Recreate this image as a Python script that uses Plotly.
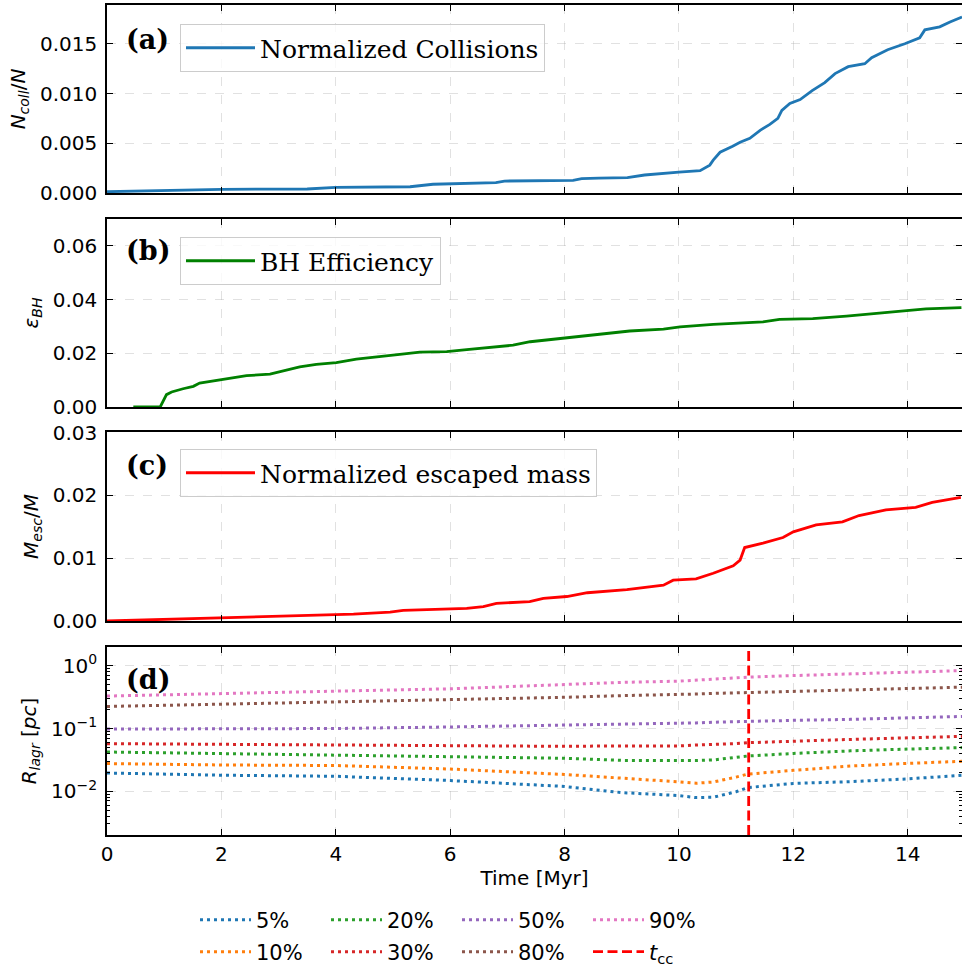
import plotly.graph_objects as go

# ---------------- data ----------------
time_coll = [0, 2.0, 3.5, 4.0, 5.3, 5.7, 6.8, 6.95, 8.15, 8.3, 8.6, 9.1, 9.4, 9.85, 10.0, 10.37,
             10.54, 10.6, 10.72, 10.94, 11.07, 11.24, 11.42, 11.59, 11.73, 11.8, 11.94, 12.12,
             12.33, 12.55, 12.73, 12.96, 13.25, 13.37, 13.65, 13.95, 14.21, 14.3, 14.56, 14.74, 14.95]
n_coll = [0.00013, 0.00037, 0.0004, 0.00057, 0.00063, 0.00088, 0.00104, 0.0012, 0.00127, 0.00144,
          0.0015, 0.00154, 0.00181, 0.00205, 0.0021, 0.00224, 0.0028, 0.0033, 0.0041, 0.0047,
          0.0051, 0.0055, 0.0063, 0.0069, 0.0075, 0.0083, 0.0090, 0.0094, 0.0103, 0.0111, 0.0120,
          0.0127, 0.0130, 0.0136, 0.0144, 0.0150, 0.0156, 0.0164, 0.0167, 0.0172, 0.0177]

time_bh = [0.46, 0.93, 1.04, 1.13, 1.33, 1.51, 1.62, 1.91, 2.03, 2.2, 2.44, 2.85, 3.08, 3.37,
           3.66, 4.01, 4.36, 4.65, 5.12, 5.47, 5.94, 6.29, 6.7, 7.1, 7.4, 8.04, 8.56, 9.14,
           9.73, 10.02, 10.6, 11.47, 11.76, 12.34, 12.93, 13.28, 13.62, 14.03, 14.32, 14.94]
eps_bh = [0, 0, 0.0046, 0.0056, 0.0068, 0.0077, 0.0089, 0.0099, 0.0103, 0.0108, 0.0117, 0.0122,
          0.0134, 0.0149, 0.0159, 0.0165, 0.0178, 0.0184, 0.0196, 0.0204, 0.0206, 0.0214, 0.0221,
          0.0230, 0.0243, 0.0257, 0.0271, 0.0283, 0.029, 0.0298, 0.0308, 0.0317, 0.0326, 0.0329,
          0.0338, 0.0345, 0.0354, 0.036, 0.0365, 0.037]

time_esc = [0, 2.03, 3.14, 3.96, 4.31, 4.95, 5.18, 6.29, 6.58, 6.81, 7.39, 7.63, 8.04, 8.4,
            9.09, 9.73, 9.9, 10.3, 10.6, 10.95, 11.07, 11.15, 11.47, 11.82, 12.0, 12.4, 12.86,
            13.15, 13.62, 14.14, 14.43, 14.93]
m_esc = [0, 0.0005, 0.0007, 0.001, 0.0011, 0.0014, 0.0017, 0.002, 0.0023, 0.0028, 0.0031,
         0.0036, 0.0039, 0.0045, 0.0050, 0.0057, 0.0065, 0.0067, 0.0076, 0.0088, 0.0097, 0.0117,
         0.0124, 0.0133, 0.0142, 0.0153, 0.0158, 0.0168, 0.0177, 0.0181, 0.0189, 0.0197]

t_lagr = [0, 2, 4, 6, 8, 9, 10, 10.3, 10.6, 11.0, 11.2, 12, 13, 14, 14.95]
r05 = [0.0195, 0.018, 0.0173, 0.0148, 0.0119, 0.0095, 0.0085, 0.0079, 0.0080, 0.0098, 0.0114, 0.0133, 0.0142, 0.0157, 0.018]
r10 = [0.0276, 0.0262, 0.0257, 0.0226, 0.0185, 0.0163, 0.0141, 0.0134, 0.0140, 0.0168, 0.0187, 0.0215, 0.0252, 0.0278, 0.030]
r20 = [0.0422, 0.0398, 0.0375, 0.035, 0.0335, 0.031, 0.0305, 0.0308, 0.0315, 0.0345, 0.0364, 0.040, 0.044, 0.047, 0.0496]
r30 = [0.0574, 0.056, 0.0551, 0.0534, 0.052, 0.0528, 0.0528, 0.0545, 0.0555, 0.0574, 0.0594, 0.063, 0.067, 0.071, 0.075]
r50 = [0.098, 0.099, 0.100, 0.106, 0.113, 0.117, 0.120, 0.123, 0.126, 0.129, 0.131, 0.135, 0.140, 0.148, 0.156]
r80 = [0.225, 0.245, 0.263, 0.287, 0.315, 0.335, 0.346, 0.355, 0.363, 0.372, 0.376, 0.39, 0.41, 0.435, 0.457]
r90 = [0.33, 0.365, 0.395, 0.43, 0.50, 0.545, 0.57, 0.59, 0.615, 0.645, 0.66, 0.70, 0.745, 0.785, 0.84]
lagr_labels = ["5%", "10%", "20%", "30%", "50%", "80%", "90%"]
t_cc = 11.22

# ---------------- styling ----------------
SANS = "DejaVu Sans"
SERIF = "DejaVu Serif"
TAB = ["#1f77b4", "#ff7f0e", "#2ca02c", "#d62728", "#9467bd", "#8c564b", "#e377c2"]
XMAX = 14.95
LOG_RANGE = [0.002, 2.0]

fig = go.Figure()

fig.add_trace(go.Scatter(x=time_coll, y=n_coll, mode="lines", name="Normalized Collisions",
                         line=dict(color="#1f77b4", width=2.8), xaxis="x", yaxis="y", legend="legend"))
fig.add_trace(go.Scatter(x=time_bh, y=eps_bh, mode="lines", name="BH Efficiency",
                         line=dict(color="green", width=2.8), xaxis="x2", yaxis="y2", legend="legend2"))
fig.add_trace(go.Scatter(x=time_esc, y=m_esc, mode="lines", name="Normalized escaped mass",
                         line=dict(color="red", width=2.8), xaxis="x3", yaxis="y3", legend="legend3"))

series = [r05, r10, r20, r30, r50, r80, r90]
row_of = {0: "legend4", 2: "legend4", 4: "legend4", 6: "legend4",
          1: "legend5", 3: "legend5", 5: "legend5"}
rank = {0: 1, 2: 2, 4: 3, 6: 4, 1: 1, 3: 2, 5: 3}
for i, (vals, lab) in enumerate(zip(series, lagr_labels)):
    fig.add_trace(go.Scatter(x=t_lagr, y=vals, mode="lines", name=lab,
                             line=dict(color=TAB[i], width=3, dash="3px,4px"),
                             xaxis="x4", yaxis="y4", legend=row_of[i], legendrank=rank[i]))
fig.add_trace(go.Scatter(x=[t_cc, t_cc], y=LOG_RANGE, mode="lines", name="<i>t</i><sub>cc</sub>",
                         line=dict(color="red", width=2.8, dash="10px,4.5px"),
                         xaxis="x4", yaxis="y4", legend="legend5", legendrank=4))

ml, mr, mt, mb = 107, 0, 5, 135
W, H = 962, 970
PH = H - mt - mb
PW = W - ml - mr


def ydom(top_px, bot_px):
    return [(H - mb - bot_px) / PH, (H - mb - top_px) / PH]


def ypix(p):
    return (H - mb - p) / PH


common_x = dict(range=[0, XMAX], dtick=2, tick0=0, ticks="inside", ticklen=6, tickwidth=1.3,
                tickcolor="black", showline=True, linecolor="black", linewidth=1.6,
                mirror="allticks", showgrid=True, gridcolor="rgba(170,170,170,0.35)",
                griddash="dash", gridwidth=1, zeroline=False, automargin=False,
                tickfont=dict(family=SANS, size=20, color="black"))
common_y = dict(ticks="inside", ticklen=6, tickwidth=1.3, tickcolor="black", showline=True,
                linecolor="black", linewidth=1.6, mirror="allticks", showgrid=True,
                gridcolor="rgba(170,170,170,0.35)", griddash="dash", gridwidth=1, zeroline=False,
                automargin=False,
                tickfont=dict(family=SANS, size=20, color="black"), ticklabelstandoff=4,
                title_font=dict(family=SANS, size=20, color="black"), title_standoff=9)

minor_vals = [k * 10 ** e for e in (-3, -2, -1, 0) for k in range(2, 10)]

fig.update_layout(
    width=W, height=H, margin=dict(l=ml, r=mr, t=mt, b=mb, autoexpand=False),
    paper_bgcolor="white", plot_bgcolor="white", showlegend=True,
    xaxis=dict(common_x, anchor="y", showticklabels=False, matches="x4"),
    xaxis2=dict(common_x, anchor="y2", showticklabels=False, matches="x4"),
    xaxis3=dict(common_x, anchor="y3", showticklabels=False, matches="x4"),
    xaxis4=dict(common_x, anchor="y4", showticklabels=True,
                title=dict(text="Time [Myr]", font=dict(family=SANS, size=20, color="black"), standoff=6)),
    yaxis=dict(common_y, domain=ydom(5, 193), range=[0, 0.0189], tickvals=[0, 0.005, 0.010, 0.015],
               tickformat=".3f", title_text="<i>N<sub>coll</sub></i>/<i>N</i>"),
    yaxis2=dict(common_y, domain=ydom(219, 407), range=[0, 0.07], tickvals=[0, 0.02, 0.04, 0.06],
                tickformat=".2f", title_text="<i>ε<sub>BH</sub></i>"),
    yaxis3=dict(common_y, domain=ydom(432, 621), range=[0, 0.0301], tickvals=[0, 0.01, 0.02, 0.03],
                tickformat=".2f", title_text="<i>M<sub>esc</sub></i>/<i>M</i>"),
    yaxis4=dict(common_y, domain=ydom(647, 835), type="log",
                range=[-2.699, 0.301], tickvals=[0.01, 0.1, 1],
                ticktext=["10<sup>−2</sup>", "10<sup>−1</sup>", "10<sup>0</sup>"],
                minor=dict(ticks="inside", ticklen=3, tickwidth=1, tickcolor="black",
                           tickvals=minor_vals, showgrid=False),
                title_text="<i>R<sub>lagr</sub></i> [<i>pc</i>]"),
)

leg_common = dict(bgcolor="rgba(255,255,255,0.8)", bordercolor="#cccccc", borderwidth=1,
                  font=dict(family=SERIF, size=25, color="black"), xanchor="left", yanchor="top",
                  x=(180 - ml) / PW, itemwidth=69)
row_common = dict(orientation="h", x=(195 - ml) / PW, xanchor="left", yanchor="middle",
                  entrywidth=65, entrywidthmode="pixels", traceorder="normal", itemwidth=51,
                  font=dict(family=SANS, size=21, color="black"), bgcolor="rgba(0,0,0,0)")
fig.update_layout(
    legend=dict(leg_common, y=ypix(24)),
    legend2=dict(leg_common, y=ypix(237)),
    legend3=dict(leg_common, y=ypix(449)),
    legend4=dict(row_common, y=ypix(920)),
    legend5=dict(row_common, y=ypix(952)),
)

labels = ["(a)", "(b)", "(c)", "(d)"]
centers = [40, 250, 466, 679]
for lab, cy in zip(labels, centers):
    fig.add_annotation(text="<b>%s</b>" % lab, xref="paper", yref="paper",
                       x=(124 - ml) / PW, y=ypix(cy), xanchor="left", yanchor="middle",
                       showarrow=False, font=dict(family=SERIF, size=27, color="black"))

fig.write_html("out.html", config={"displayModeBar": False},
               post_script="document.body.style.margin='0';document.body.style.overflow='hidden';")
